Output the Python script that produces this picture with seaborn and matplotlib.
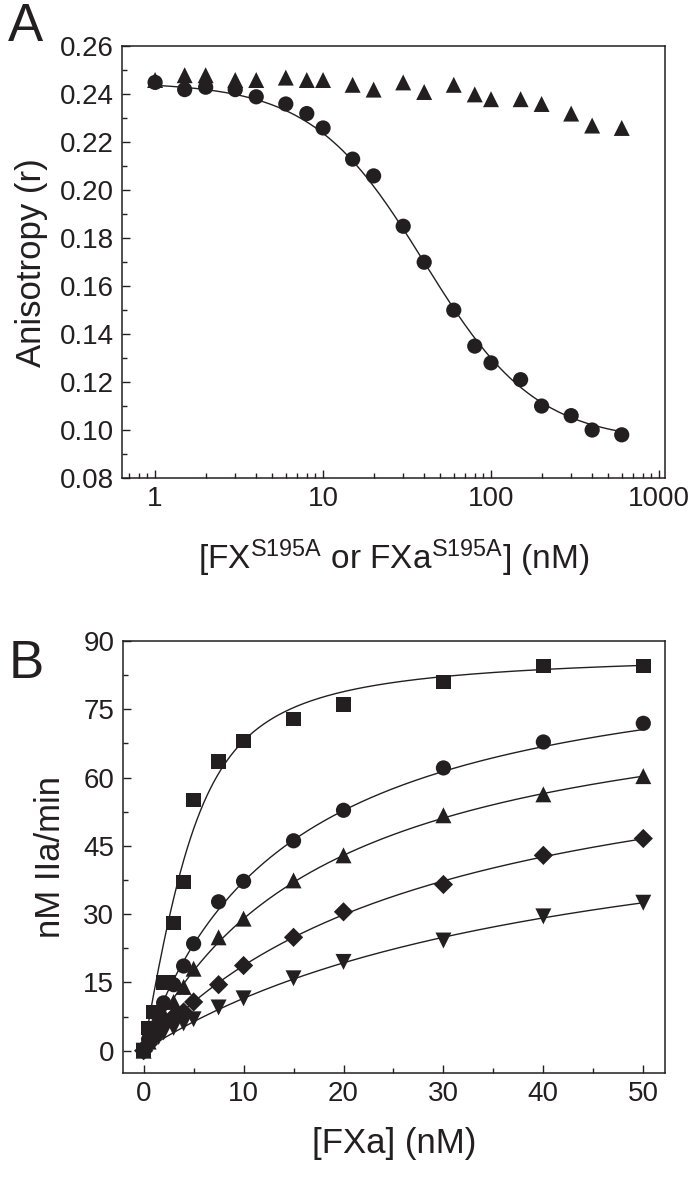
import matplotlib
matplotlib.use("Agg")
import matplotlib.pyplot as plt
from matplotlib.ticker import MultipleLocator
import seaborn as sns
import numpy as np
import pandas as pd

# ---- panel A: anisotropy vs concentration (log x) ----
conc_a = [1, 1.5, 2, 3, 4, 6, 8, 10, 15, 20, 30, 40, 60, 80, 100, 150, 200, 300, 400, 600]
aniso_circles = [0.245, 0.242, 0.243, 0.242, 0.239, 0.236, 0.232, 0.226, 0.213, 0.206,
                 0.185, 0.170, 0.150, 0.135, 0.128, 0.121, 0.110, 0.106, 0.100, 0.098]
aniso_triangles = [0.246, 0.248, 0.248, 0.246, 0.246, 0.247, 0.246, 0.246, 0.244, 0.242,
                   0.245, 0.241, 0.244, 0.240, 0.238, 0.238, 0.236, 0.232, 0.227, 0.226]
# fitted competition curve: top, bottom, EC50, hill
fit_a = [0.245, 0.095, 40.0, 1.3]

# ---- panel B: rate vs [FXa] ----
x_sq = [0, 0.5, 1, 2, 2.5, 3, 4, 5, 7.5, 10, 15, 20, 30, 40, 50]
y_sq = [0, 5, 8.5, 15, 15, 28, 37, 55, 63.5, 68, 72.8, 76, 81, 84.5, 84.5]
x_b = [0, 0.5, 1, 1.5, 2, 3, 4, 5, 7.5, 10, 15, 20, 30, 40, 50]
y_circ = [0, 2.5, 5, 7.5, 10.5, 14.5, 18.6, 23.5, 32.7, 37.2, 46.1, 52.8, 62.1, 67.8, 71.9]
y_tri = [0, 2, 4, 6, 8, 10.7, 14, 18, 24.9, 29, 37.4, 42.9, 51.7, 56.3, 60.3]
y_dia = [0, 1.5, 3, 4.5, 6, 7.5, 8.5, 10.7, 14.5, 18.7, 24.9, 30.5, 36.5, 42.9, 46.6]
y_dtri = [0, 1, 2, 3, 4, 5, 6, 6.9, 9.5, 11.5, 15.9, 19.5, 24.2, 29.5, 32.5]
# fitted curves: squares use the tight-binding form (Vmax, E, Kd), others hyperbolic (Vmax, K)
fit_sq = [88.0, 5.0, 1.8]
fit_hyp = {"circ": [91.0, 14.5], "tri": [82.6, 18.5], "dia": [74.2, 29.7], "dtri": [59.8, 42.0]}

ink = "#231f20"

sns.set_style("ticks")
plt.rcParams["font.family"] = ["Liberation Sans", "DejaVu Sans"]
plt.rcParams["text.color"] = ink
plt.rcParams["axes.labelcolor"] = ink
plt.rcParams["xtick.color"] = ink
plt.rcParams["ytick.color"] = ink
plt.rcParams["axes.edgecolor"] = ink

fig = plt.figure(figsize=(6.93, 11.79), dpi=100)
axA = fig.add_axes([0.176, 0.5946, 0.784, 0.366])
axB = fig.add_axes([0.177, 0.0899, 0.783, 0.3665])

ms = 120

# panel A
dfa = pd.DataFrame({"conc": conc_a, "circ": aniso_circles, "tri": aniso_triangles})
xa = np.logspace(0, np.log10(600), 200)
top, bot, ec50, hill = fit_a
sns.lineplot(x=xa, y=bot + (top - bot) / (1 + (xa / ec50) ** hill), ax=axA,
             color=ink, lw=1.0)
sns.scatterplot(data=dfa, x="conc", y="tri", marker="^", s=ms * 1.1, color=ink,
                edgecolor="none", ax=axA, zorder=3)
sns.scatterplot(data=dfa, x="conc", y="circ", marker="o", s=ms, color=ink,
                edgecolor="none", ax=axA, zorder=3)
axA.set_xscale("log")
axA.set_xlim(0.635, 1090)
axA.set_ylim(0.08, 0.26)
axA.set_xticks([1, 10, 100, 1000])
axA.set_xticklabels(["1", "10", "100", "1000"])
axA.yaxis.set_major_locator(MultipleLocator(0.02))
axA.yaxis.set_minor_locator(MultipleLocator(0.01))
axA.set_yticklabels([f"{v:.2f}" for v in axA.get_yticks()])
axA.set_xlabel(r"[FX$\mathregular{^{S195A}}$ or FXa$\mathregular{^{S195A}}$] (nM)",
               fontsize=24, labelpad=18)
axA.set_ylabel("Anisotropy (r)", fontsize=25, labelpad=8)

# panel B
xb = np.linspace(0, 50, 300)
vmax, e0, kd = fit_sq
s = e0 + xb + kd
sns.lineplot(x=xb, y=vmax * (s - np.sqrt(s ** 2 - 4 * e0 * xb)) / (2 * e0), ax=axB,
             color=ink, lw=1.0)
for key in ["circ", "tri", "dia", "dtri"]:
    v, k = fit_hyp[key]
    sns.lineplot(x=xb, y=v * xb / (k + xb), ax=axB, color=ink, lw=1.0)

sns.scatterplot(x=x_b, y=y_dtri, marker="v", s=ms * 1.1, color=ink, edgecolor="none", ax=axB, zorder=3)
sns.scatterplot(x=x_b, y=y_dia, marker="D", s=ms * 0.8, color=ink, edgecolor="none", ax=axB, zorder=3)
sns.scatterplot(x=x_b, y=y_tri, marker="^", s=ms * 1.1, color=ink, edgecolor="none", ax=axB, zorder=3)
sns.scatterplot(x=x_b, y=y_circ, marker="o", s=ms, color=ink, edgecolor="none", ax=axB, zorder=3)
sns.scatterplot(x=x_sq, y=y_sq, marker="s", s=ms * 0.9, color=ink, edgecolor="none", ax=axB, zorder=3)
axB.set_xlim(-2.1, 52.2)
axB.set_ylim(-4.9, 90)
axB.xaxis.set_major_locator(MultipleLocator(10))
axB.xaxis.set_minor_locator(MultipleLocator(5))
axB.yaxis.set_major_locator(MultipleLocator(15))
axB.yaxis.set_minor_locator(MultipleLocator(7.5))
axB.set_xlabel("[FXa] (nM)", fontsize=25, labelpad=14)
axB.set_ylabel("nM IIa/min", fontsize=25, labelpad=12)

for ax in (axA, axB):
    for sp in ax.spines.values():
        sp.set_linewidth(1.1)
    ax.tick_params(which="both", direction="in", top=False, right=False,
                   labelsize=20, width=1.0, pad=6)
    ax.tick_params(which="major", length=6)
    ax.tick_params(which="minor", length=3.5)

fig.text(0.012, 0.998, "A", fontsize=38, va="top", ha="left")
fig.text(0.012, 0.458, "B", fontsize=38, va="top", ha="left")

fig.savefig("out.png", dpi=100)
